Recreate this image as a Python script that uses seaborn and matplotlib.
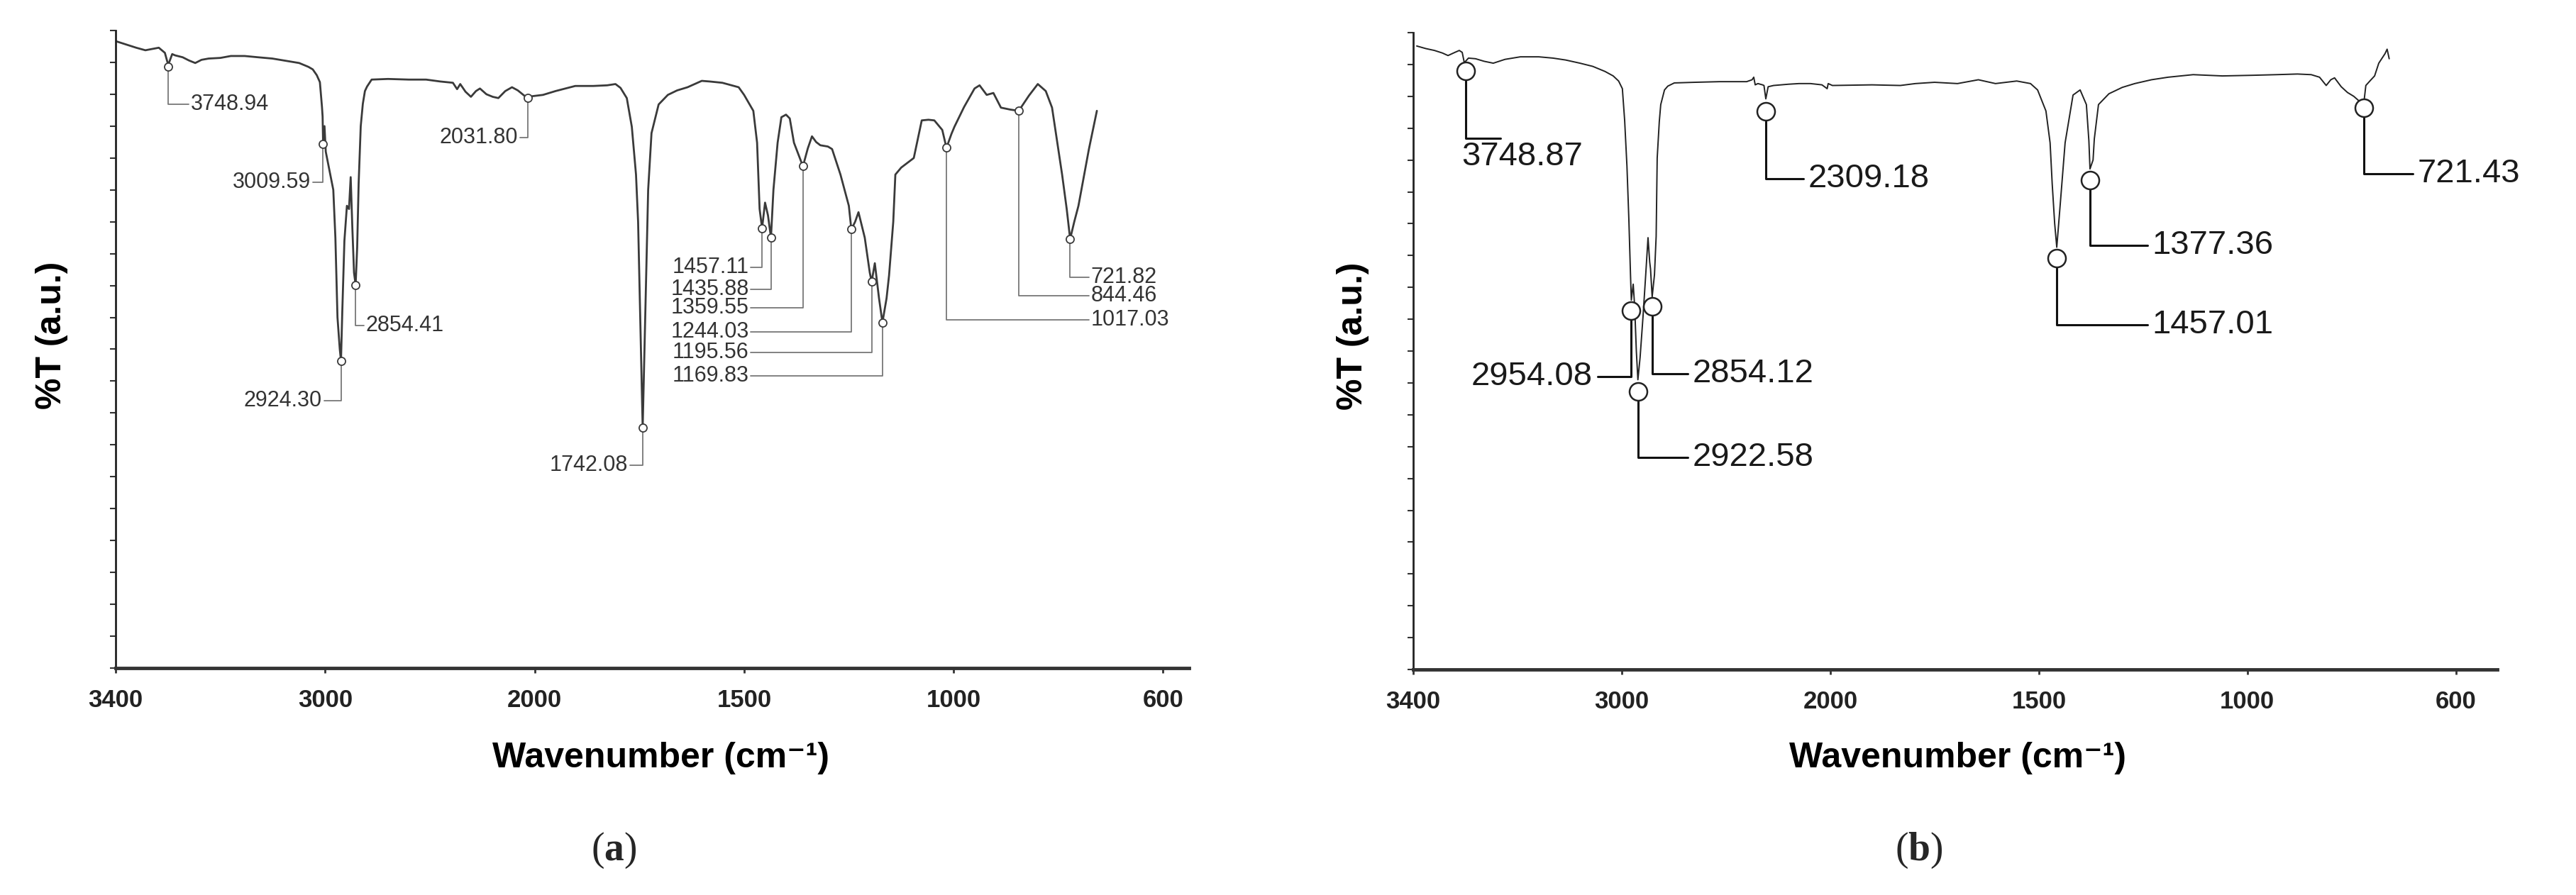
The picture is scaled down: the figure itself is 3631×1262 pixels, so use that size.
import numpy as np
import pandas as pd
import matplotlib
matplotlib.use("Agg")
import matplotlib.pyplot as plt
import seaborn as sns

# ---- spectrum (a) ----
wn_a = [3997, 3950, 3902, 3858, 3794, 3765, 3749, 3730, 3716, 3680, 3650, 3620, 3590, 3556,
        3500, 3450, 3384, 3320, 3252, 3180, 3124, 3080, 3059, 3040, 3025, 3015,
        3012, 3009.6, 3003, 2997, 2985, 2961, 2951, 2941, 2930, 2924.3, 2918, 2908, 2896,
        2886, 2878, 2870, 2862, 2854.4, 2847, 2840, 2830, 2820, 2810, 2800,
        2778, 2700, 2600, 2518, 2450, 2390, 2370, 2355, 2330,
        2304, 2280, 2261, 2230, 2200, 2173, 2140, 2108, 2080, 2050, 2031.8, 2010, 1980, 1950,
        1903, 1860, 1827, 1807, 1795, 1780, 1768, 1758, 1753, 1748, 1742.08, 1736, 1729, 1721,
        1704, 1682, 1660, 1635, 1601, 1582, 1552, 1530, 1513, 1500, 1478, 1469, 1463, 1457.11,
        1450, 1443, 1435.88, 1430, 1420, 1411, 1400, 1391, 1381, 1370, 1359.55, 1348, 1338,
        1328, 1318, 1300, 1290, 1270, 1250, 1244.03, 1235, 1227, 1212, 1200, 1195.56, 1188,
        1178, 1169.83, 1160, 1154, 1144, 1139, 1125, 1115, 1095, 1076, 1060, 1046, 1027,
        1017.03, 1005, 998, 975, 950, 938, 921, 905, 887, 865, 844.46, 820, 799, 780, 765,
        741, 730, 721.82, 712, 702, 677, 658]
t_a = [98.3, 97.8, 97.3, 96.9, 97.3, 96.5, 94.6, 96.3, 96.1, 95.8, 95.3, 94.9, 95.4, 95.6,
       95.7, 96.0, 96.0, 95.8, 95.6, 95.2, 94.9, 94.3, 93.9, 93.0, 91.9, 88.0,
       86.5, 82.2, 85.0, 81.0, 79.0, 75.0, 67.5, 55.0, 50.0, 48.2, 56.0, 67.0, 72.5,
       72.0, 77.0, 69.0, 62.0, 60.1, 66.0, 76.0, 85.0, 88.5, 90.5, 91.2,
       92.3, 92.4, 92.3, 92.3, 92.0, 91.8, 90.8, 91.6, 90.4,
       89.6, 90.5, 90.9, 90.0, 89.6, 89.4, 90.5, 91.1, 90.6, 89.8, 89.4, 89.7, 89.9, 90.5,
       91.3, 91.3, 91.4, 91.6, 91.0, 89.4, 84.9, 77.4, 70.0, 55.0, 37.7, 55.0, 75.0, 83.9,
       88.4, 89.9, 90.6, 91.1, 92.1, 92.0, 91.8, 91.4, 91.1, 89.9, 87.4, 82.4, 72.0, 69.0,
       73.0, 71.0, 67.5, 75.0, 82.4, 86.4, 86.8, 86.2, 82.4, 80.5, 78.7, 81.5, 83.4,
       82.5, 82.0, 81.8, 81.4, 77.4, 72.5, 68.8, 70.0, 71.5, 67.5, 62.0, 60.6, 63.5,
       58.0, 54.2, 58.0, 61.6, 70.0, 77.4, 78.5, 79.0, 80.0, 85.9, 86.0, 85.9, 84.4,
       81.6, 83.8, 84.9, 88.0, 90.9, 91.4, 89.9, 90.2, 87.9, 87.6, 87.4, 89.8, 91.6, 90.5, 87.9,
       77.4, 72.0, 67.3, 70.0, 72.5, 81.4, 87.4]

peaks_a = ["3748.94", "3009.59", "2924.30", "2854.41", "2031.80", "1742.08", "1457.11",
           "1435.88", "1359.55", "1244.03", "1195.56", "1169.83", "1017.03", "844.46", "721.82"]
circle_a = [94.3, 82.2, 48.2, 60.1, 89.4, 37.7, 69.0, 67.5, 78.7, 68.8, 60.6, 54.2, 81.6, 87.4, 67.3]
level_a = [88.4, 76.2, 41.9, 53.7, 83.2, 31.8, 62.8, 59.4, 56.5, 52.7, 49.5, 45.8, 54.6, 58.4, 61.3]
end_a = [3651, 3059, 3005, 2816, 2071, 1773, 1484, 1484, 1484, 1484, 1484, 1484, 677, 677, 677]
side_a = ["right", "left", "left", "right", "left", "left", "left", "left", "left", "left",
          "left", "left", "right", "right", "right"]

# ---- spectrum (b) ----
wn_b = [3983, 3940, 3898, 3860, 3833, 3800, 3779, 3765, 3755, 3748.87, 3735, 3701, 3660, 3616,
        3560, 3486, 3398, 3330, 3269, 3200, 3139, 3080, 3041, 3015, 2997, 2986, 2975, 2966,
        2958, 2954.08, 2945, 2938, 2930, 2922.58, 2912, 2898, 2885, 2874, 2866, 2862, 2854.12,
        2843, 2835, 2830, 2820, 2813, 2795, 2779, 2748, 2650, 2531, 2450, 2401, 2375, 2367,
        2360, 2347, 2325, 2318, 2309.18, 2298, 2272, 2200, 2150, 2095, 2040, 2015, 2010, 1995,
        1900, 1832, 1796, 1750, 1695, 1645, 1604, 1553, 1520, 1503, 1483, 1473, 1468, 1462,
        1457.01, 1449, 1437, 1418, 1401, 1386, 1380, 1377.36, 1370, 1367, 1357, 1332, 1300,
        1270, 1230, 1190, 1130, 1060, 988, 930, 880, 847, 827, 811, 800, 791, 775, 760, 745,
        731, 721.43, 716, 705, 695, 685, 670, 665, 660]
t_b = [97.9, 97.5, 97.2, 96.8, 96.4, 96.9, 97.2, 96.9, 95.3, 95.5, 96.0, 95.9, 95.5, 95.2,
       95.8, 96.2, 96.2, 96.0, 95.7, 95.2, 94.7, 93.9, 93.2, 92.4, 91.2, 86.2, 79.0, 70.8,
       62.0, 58.0, 60.5, 57.0, 50.0, 45.5, 49.0, 55.4, 62.0, 67.8, 64.0, 62.9, 58.5,
       62.0, 68.0, 80.3, 86.0, 88.7, 91.0, 91.6, 92.1, 92.2, 92.3, 92.3, 92.3, 92.6, 93.0,
       91.8, 92.0, 91.8, 91.7, 89.6, 91.5, 91.7, 91.9, 92.0, 92.0, 91.8, 91.2, 92.0, 91.7,
       91.8, 91.7, 92.0, 92.2, 92.0, 92.6, 92.0, 92.4, 92.0, 91.0, 87.7, 82.7, 76.3, 70.0,
       66.3, 72.8, 82.7, 90.2, 91.0, 88.7, 83.0, 78.6, 80.0, 83.3, 88.7, 90.4, 91.4,
       92.0, 92.6, 93.0, 93.4, 93.2, 93.3, 93.4, 93.5, 93.4, 93.0, 91.7, 92.6, 92.9, 91.5,
       90.6, 90.0, 89.2, 88.6, 91.7, 92.5, 93.2, 95.2, 96.7, 97.4, 95.9]

peaks_b = ["3748.87", "2954.08", "2922.58", "2854.12", "2309.18", "1457.01", "1377.36", "721.43"]
circle_b = [94.0, 56.4, 43.7, 57.0, 87.6, 64.6, 76.8, 88.2]
level_b = [83.4, 46.0, 33.3, 46.4, 77.1, 54.1, 66.6, 77.8]
end_b = [3582, 3116, 2684, 2684, 2129, 1240, 1240, 604]
side_b = ["below", "left", "right", "right", "right", "right", "right", "right"]

# x axis: broken FTIR scale (one slot per tick), labels as printed
slot_wn = [0, 500, 1000, 1500, 2000, 3000, 4000, 5000]
slot_pos = [0, 1, 2, 3, 4, 5, 6, 7]
tick_values = [4000, 3000, 2000, 1500, 1000, 500]
tick_labels = ["3400", "3000", "2000", "1500", "1000", "600"]


def forward(x):
    return np.interp(x, slot_wn, slot_pos)


def inverse(x):
    return np.interp(x, slot_pos, slot_wn)


sns.set_theme(style="white")
plt.rcParams["font.family"] = ["Liberation Sans", "DejaVu Sans"]
plt.rcParams["mathtext.fontset"] = "custom"
plt.rcParams["mathtext.rm"] = "Liberation Serif"
plt.rcParams["mathtext.bf"] = "Liberation Serif:bold"


def draw_panel(ax, wn, t, peaks, circ, levels, ends, sides, xmin, st):
    df = pd.DataFrame({"wn": wn, "T": t})
    sns.lineplot(data=df, x="wn", y="T", ax=ax, color=st["curve"], lw=st["lw"],
                 estimator=None, sort=False)
    pw = [float(p) for p in peaks]
    # leader lines: down from the peak, then sideways to the label
    for p, c, lv, e in zip(pw, circ, levels, ends):
        ax.plot([p, p, e], [c, lv, lv], color=st["lead"], lw=st["lead_lw"], zorder=2)
    sns.scatterplot(x=pw, y=circ, ax=ax, s=st["ms"] ** 2, color="white",
                    edgecolor=st["curve"], linewidth=st["mew"], zorder=4)
    for lab, p, lv, e, sd in zip(peaks, pw, levels, ends, sides):
        if sd == "right":
            ax.annotate(lab, xy=(e, lv), xytext=(st["off"], 0), textcoords="offset points",
                        ha="left", va="center", fontsize=st["fs"], color=st["text"])
        elif sd == "left":
            ax.annotate(lab, xy=(e, lv), xytext=(-st["off"], 0), textcoords="offset points",
                        ha="right", va="center", fontsize=st["fs"], color=st["text"])
        else:
            ax.annotate(lab, xy=(p, lv), xytext=(-4, -3), textcoords="offset points",
                        ha="left", va="top", fontsize=st["fs"], color=st["text"])

    ax.set_xscale("function", functions=(forward, inverse))
    ax.set_xlim(4000, xmin)
    ax.set_ylim(0, 100)
    ax.set_xticks(tick_values)
    ax.set_xticklabels(tick_labels, fontsize=25, fontweight="bold", color="#222222")
    ax.set_yticks(np.arange(0, 101, 5))
    ax.set_yticklabels([])
    ax.tick_params(axis="x", direction="out", length=5, width=2, pad=16, bottom=True,
                   color="#333333")
    ax.tick_params(axis="y", direction="out", length=6, width=1.5, left=True,
                   color="#333333")
    ax.xaxis.set_minor_locator(matplotlib.ticker.NullLocator())
    sns.despine(ax=ax)
    ax.spines["left"].set_linewidth(2)
    ax.spines["left"].set_color("#222222")
    ax.spines["bottom"].set_linewidth(3.5)
    ax.spines["bottom"].set_color("#333333")
    ax.set_xlabel("Wavenumber (cm⁻¹)", fontsize=36, fontweight="bold", color="black")
    ax.set_ylabel("%T (a.u.)", fontsize=36, fontweight="bold", color="black")
    ax.xaxis.label.set_va("center")
    ax.yaxis.label.set_va("center")
    ax.grid(False)


fig = plt.figure(figsize=(36.31, 12.62), dpi=100)
ax_a = fig.add_axes([0.04489, 0.25357, 0.4167, 0.71236])
ax_b = fig.add_axes([0.5486, 0.25198, 0.42082, 0.71157])

style_a = dict(curve="#3a3a3a", lw=2.0, lead="#777777", lead_lw=1.3, ms=8, mew=1.3,
               fs=22, off=2, text="#333333")
style_b = dict(curve="#222222", lw=1.4, lead="#111111", lead_lw=2.2, ms=18, mew=1.8,
               fs=34, off=5, text="#1a1a1a")

draw_panel(ax_a, wn_a, t_a, peaks_a, circle_a, level_a, end_a, side_a, 438, style_a)
draw_panel(ax_b, wn_b, t_b, peaks_b, circle_b, level_b, end_b, side_b, 401, style_b)

ax_a.xaxis.set_label_coords(0.508, -0.141)
ax_a.yaxis.set_label_coords(-0.0595, 0.522)
ax_b.xaxis.set_label_coords(0.502, -0.139)
ax_b.yaxis.set_label_coords(-0.0556, 0.524)

fig.text(865 / 3631, 1 - 1199 / 1262, r"$\mathrm{(}\mathbf{a}\mathrm{)}$", fontsize=40,
         ha="center", va="center")
fig.text(2705 / 3631, 1 - 1199 / 1262, r"$\mathrm{(}\mathbf{b}\mathrm{)}$", fontsize=40,
         ha="center", va="center")

fig.savefig("out.png", dpi=100)
plt.close(fig)
